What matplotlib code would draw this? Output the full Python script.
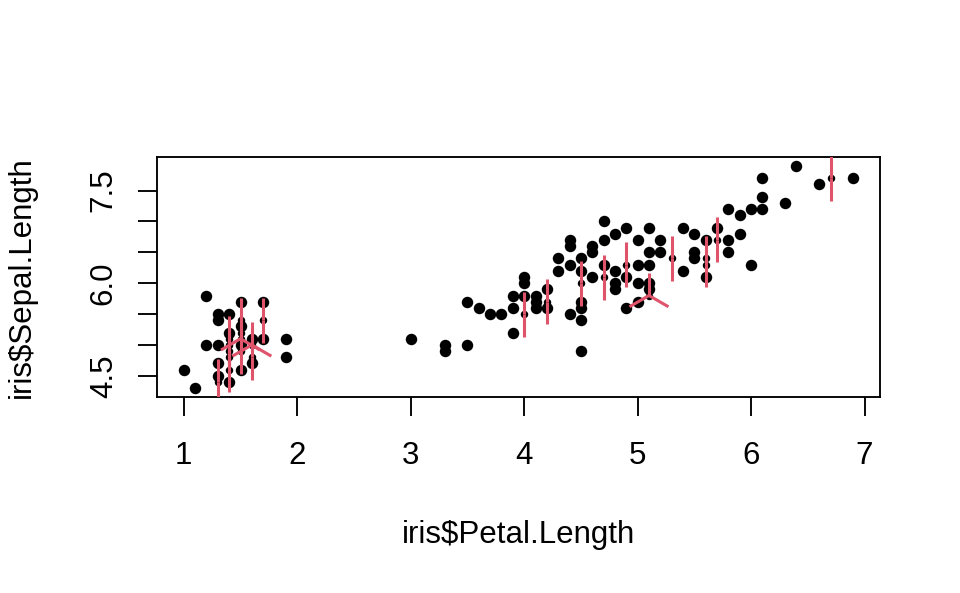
import numpy as np
import matplotlib.pyplot as plt
from matplotlib.collections import LineCollection

plt.rcParams['font.family'] = ['Liberation Sans', 'DejaVu Sans']

# iris: Petal.Length y Sepal.Length (150 filas)
petal_length = [
    1.4, 1.4, 1.3, 1.5, 1.4, 1.7, 1.4, 1.5, 1.4, 1.5, 1.5, 1.6, 1.4, 1.1, 1.2, 1.5, 1.3, 1.4, 1.7, 1.5,
    1.7, 1.5, 1.0, 1.7, 1.9, 1.6, 1.6, 1.5, 1.4, 1.6, 1.6, 1.5, 1.5, 1.4, 1.5, 1.2, 1.3, 1.4, 1.3, 1.5,
    1.3, 1.3, 1.3, 1.6, 1.9, 1.4, 1.6, 1.4, 1.5, 1.4,
    4.7, 4.5, 4.9, 4.0, 4.6, 4.5, 4.7, 3.3, 4.6, 3.9, 3.5, 4.2, 4.0, 4.7, 3.6, 4.4, 4.5, 4.1, 4.5, 3.9,
    4.8, 4.0, 4.9, 4.7, 4.3, 4.4, 4.8, 5.0, 4.5, 3.5, 3.8, 3.7, 3.9, 5.1, 4.5, 4.5, 4.7, 4.4, 4.1, 4.0,
    4.4, 4.6, 4.0, 3.3, 4.2, 4.2, 4.2, 4.3, 3.0, 4.1,
    6.0, 5.1, 5.9, 5.6, 5.8, 6.6, 4.5, 6.3, 5.8, 6.1, 5.1, 5.3, 5.5, 5.0, 5.1, 5.3, 5.5, 6.7, 6.9, 5.0,
    5.7, 4.9, 6.7, 4.9, 5.7, 6.0, 4.8, 4.9, 5.6, 5.8, 6.1, 6.4, 5.6, 5.1, 5.6, 6.1, 5.6, 5.5, 4.8, 5.4,
    5.6, 5.1, 5.1, 5.9, 5.7, 5.2, 5.0, 5.2, 5.4, 5.1,
]
sepal_length = [
    5.1, 4.9, 4.7, 4.6, 5.0, 5.4, 4.6, 5.0, 4.4, 4.9, 5.4, 4.8, 4.8, 4.3, 5.8, 5.7, 5.4, 5.1, 5.7, 5.1,
    5.4, 5.1, 4.6, 5.1, 4.8, 5.0, 5.0, 5.2, 5.2, 4.7, 4.8, 5.4, 5.2, 5.5, 4.9, 5.0, 5.5, 4.9, 4.4, 5.1,
    5.0, 4.5, 4.4, 5.0, 5.1, 4.8, 5.1, 4.6, 5.3, 5.0,
    7.0, 6.4, 6.9, 5.5, 6.5, 5.7, 6.3, 4.9, 6.6, 5.2, 5.0, 5.9, 6.0, 6.1, 5.6, 6.7, 5.6, 5.8, 6.2, 5.6,
    5.9, 6.1, 6.3, 6.1, 6.4, 6.6, 6.8, 6.7, 6.0, 5.7, 5.5, 5.5, 5.8, 6.0, 5.4, 6.0, 6.7, 6.3, 5.6, 5.5,
    5.5, 6.1, 5.8, 5.0, 5.6, 5.7, 5.7, 6.2, 5.1, 5.7,
    6.3, 5.8, 7.1, 6.3, 6.5, 7.6, 4.9, 7.3, 6.7, 7.2, 6.5, 6.4, 6.8, 5.7, 5.8, 6.4, 6.5, 7.7, 7.7, 6.0,
    6.9, 5.6, 7.7, 6.3, 6.7, 7.2, 6.2, 6.1, 6.4, 7.2, 7.4, 7.9, 6.4, 6.3, 6.1, 7.7, 6.3, 6.4, 6.0, 6.9,
    6.7, 6.9, 5.8, 6.8, 6.7, 6.7, 6.3, 6.5, 6.2, 5.9,
]

x_ticks = [1, 2, 3, 4, 5, 6, 7]
y_ticks = [4.5, 5.0, 5.5, 6.0, 6.5, 7.0, 7.5]
y_tick_labels = ["4.5", "", "", "6.0", "", "", "7.5"]

rojo = "#DF536B"
tam_petalo = 22.5  # px

ancho, alto = 960, 593
fig = plt.figure(figsize=(ancho / 100, alto / 100), dpi=100)
ax_izq, ax_der, ax_arr, ax_aba = 157, 880, 157, 397
ax = fig.add_axes([ax_izq / ancho, 1 - ax_aba / alto, (ax_der - ax_izq) / ancho, (ax_aba - ax_arr) / alto])

# puntos coincidentes
pares, conteo = np.unique(np.column_stack([petal_length, sepal_length]), axis=0, return_counts=True)
x = pares[:, 0]
y = pares[:, 1]

x0, x1 = min(petal_length), max(petal_length)
y0, y1 = min(sepal_length), max(sepal_length)
dx = 0.04 * (x1 - x0)
dy = 0.04 * (y1 - y0)
ax.set_xlim(x0 - dx, x1 + dx)
ax.set_ylim(y0 - dy, y1 + dy)

xr = tam_petalo * (x1 - x0 + 2 * dx) / (ax_der - ax_izq)
yr = tam_petalo * (y1 - y0 + 2 * dy) / (ax_aba - ax_arr)

solos = conteo == 1
multi = conteo > 1
ax.scatter(x[solos], y[solos], s=68, color="black", linewidths=0, zorder=2)
ax.scatter(x[multi], y[multi], s=29, color="black", linewidths=0, zorder=3)

segmentos = []
for xi, yi, n in zip(x[multi], y[multi], conteo[multi]):
    for z in range(1, n + 1):
        ang = 2 * np.pi * z / n
        segmentos.append([(xi, yi), (xi + xr * np.sin(ang), yi + yr * np.cos(ang))])
ax.add_collection(LineCollection(segmentos, colors=rojo, linewidths=2.2, zorder=4))

ax.set_xticks(x_ticks)
ax.set_yticks(y_ticks)
ax.set_yticklabels(y_tick_labels, rotation=90, va="center")
ax.tick_params(axis="both", length=13.5, width=1.35, labelsize=22.5, color="black")
ax.tick_params(axis="x", pad=18)
ax.tick_params(axis="y", pad=14)
for s in ax.spines.values():
    s.set_linewidth(1.35)

fig.text((ax_izq + ax_der) / 2 / ancho, 1 - 543 / alto, "iris$Petal.Length",
         ha="center", va="baseline", fontsize=22.5)
fig.text(37 / ancho, 1 - (ax_arr + ax_aba) / 2 / alto, "iris$Sepal.Length",
         ha="right", va="center", rotation=90, fontsize=22.5)

fig.savefig("out.png", dpi=100)
